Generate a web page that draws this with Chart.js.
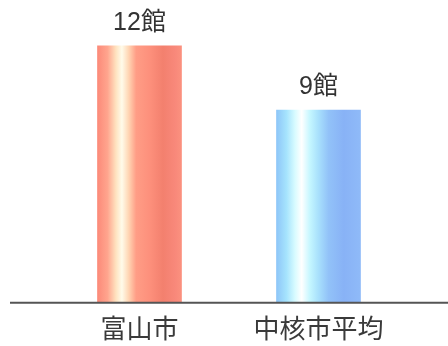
<!DOCTYPE html>
<html>
<head>
<meta charset="utf-8">
<script src="https://cdn.jsdelivr.net/npm/chart.js@4"></script>
<style>
  html, body { margin: 0; padding: 0; background: #fff; }
  #wrap { width: 448px; height: 346px; }
</style>
</head>
<body>
<div id="wrap"><canvas id="libChart"></canvas></div>
<script>
const categories = ["富山市", "中核市平均"];
const counts = [12, 9];
const valueLabels = ["12館", "9館"];

const FONT = "'Liberation Sans', 'Noto Sans CJK JP', sans-serif";
const BAR_W = 84;

// red and blue striped gradients across each bar
const redStops = [
  [0, "#fc8a79"], [0.12, "#ffa58e"], [0.22, "#ffe3c0"], [0.29, "#fffbea"],
  [0.37, "#ffd6b4"], [0.46, "#ff9d86"], [0.62, "#fd907c"], [0.78, "#f3806e"],
  [0.92, "#f8887a"], [1, "#fb917f"]
];
const blueStops = [
  [0, "#8ec6f8"], [0.12, "#a6e4fd"], [0.22, "#d8fbff"], [0.3, "#ffffff"],
  [0.4, "#c4f6ff"], [0.5, "#a8e0fc"], [0.62, "#92c2f8"], [0.8, "#88b2f6"],
  [1, "#8fbaf8"]
];

function barGradient(ctx) {
  const chart = ctx.chart;
  const stops = ctx.dataIndex === 0 ? redStops : blueStops;
  if (!chart.chartArea || !chart.scales.x) return stops[0][1];
  const cx = chart.scales.x.getPixelForValue(ctx.dataIndex);
  const left = cx - BAR_W / 2;
  const g = chart.ctx.createLinearGradient(left, 0, left + BAR_W, 0);
  stops.forEach(s => g.addColorStop(s[0], s[1]));
  return g;
}

// baseline running nearly the full width, plus value labels over the bars
const extras = {
  id: "extras",
  afterDatasetsDraw(chart) {
    const c = chart.ctx;
    const y0 = chart.scales.y.getPixelForValue(0);
    c.save();
    c.strokeStyle = "#555";
    c.lineWidth = 2;
    c.beginPath();
    c.moveTo(10, y0);
    c.lineTo(chart.width, y0);
    c.stroke();

    c.fillStyle = "#333";
    c.font = "25px " + FONT;
    c.textAlign = "center";
    c.textBaseline = "middle";
    chart.getDatasetMeta(0).data.forEach((bar, i) => {
      c.fillText(valueLabels[i], bar.x, bar.y - 23);
    });
    c.restore();
  }
};

new Chart(document.getElementById("libChart"), {
  type: "bar",
  data: {
    labels: categories,
    datasets: [{
      data: counts,
      barThickness: BAR_W,
      borderWidth: 0,
      backgroundColor: barGradient
    }]
  },
  options: {
    responsive: true,
    maintainAspectRatio: false,
    animation: false,
    layout: { padding: { left: 50, right: 40, top: 3, bottom: -8 } },
    plugins: { legend: { display: false }, tooltip: { enabled: false } },
    scales: {
      x: {
        grid: { display: false, drawTicks: false },
        border: { display: false },
        ticks: { color: "#3a3a3a", padding: 10, font: { size: 26, family: "'Noto Sans CJK JP', sans-serif" } }
      },
      y: {
        display: false,
        min: 0,
        max: 14
      }
    }
  },
  plugins: [extras]
});
</script>
</body>
</html>
